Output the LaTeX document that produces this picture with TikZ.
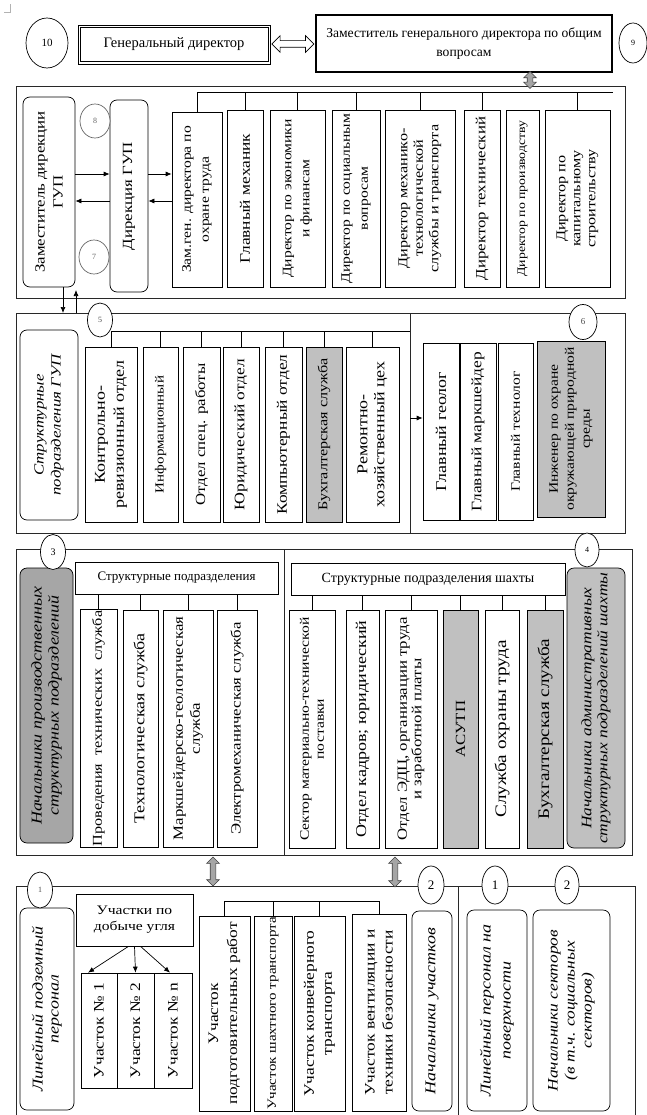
\documentclass[tikz,border=0pt]{standalone}
\usepackage{fontspec}
\setmainfont{Liberation Serif}
\newfontfamily\bx[FakeStretch=1.2]{Liberation Serif}
\definecolor{orggray}{RGB}{192,192,192}
\definecolor{orgdark}{RGB}{166,166,166}
\definecolor{orgarrow}{RGB}{165,165,165}
\definecolor{orgline}{RGB}{40,40,40}
\usepackage{tikz}
\usetikzlibrary{shapes.geometric,shapes.arrows,arrows.meta,calc}
\newcommand\fz[2]{\fontsize{#1}{#2}\selectfont}

\begin{document}
\begin{tikzpicture}[x=1pt, y=-1pt, >={Latex[length=6pt,width=5pt]}, line width=0.7pt,
  vbox/.style={draw, rotate=90, align=center, inner sep=1pt},
  rbox/.style={vbox, rounded corners=7pt},
  num/.style={ellipse, draw, fill=white, inner sep=0pt},
  garrow/.style={double arrow, draw=black!75, fill=orgarrow, rotate=90, inner sep=2.5pt, double arrow head extend=3.5pt, line width=0.6pt}]
\useasboundingbox (0,0) rectangle (646,1115);
\draw[gray!60, line width=0.5pt] (4,12) -- (10,12) -- (10,4);

% frames
\draw[orgline, line width=1pt] (16,87) rectangle (625,298);
\draw[orgline, line width=1pt] (16,313) rectangle (625,533);
\draw[orgline, line width=1pt] (410,313) -- (410,533);
\draw[orgline, line width=1pt] (16,549) rectangle (632,855);
\draw[orgline, line width=1pt] (284,549) -- (284,855);
\draw[orgline, line width=1pt] (16,1115) -- (16,886) -- (635,886) -- (635,1115);
\draw[orgline, line width=1pt] (458,886) -- (458,1115);

% top row
\node[draw, line width=0.7pt, minimum width=192, minimum height=39, font=\fz{14.5}{16}] (gen) at (174,44.5) {Генеральный директор};
\draw[line width=0.7pt] ([shift={(2.5,2.5)}]gen.north west) rectangle ([shift={(-2.5,-2.5)}]gen.south east);
\node[draw, line width=1.6pt, align=center, minimum width=296, minimum height=57, font=\fz{13.6}{19}] (zam) at (464,43.5) {Заместитель генерального директора по общим\\вопросам};
\node[double arrow, draw, fill=white, inner sep=3pt, double arrow head extend=5pt, minimum height=42] (link) at ($(gen.east)!0.5!(zam.west)$) {};
\node[garrow, minimum height=17] (ga0) at (530,80) {};
\node[num, minimum width=42, minimum height=50, font=\fz{11}{12}] (n10) at (47,43) {10};
\node[num, minimum width=28, minimum height=40, font=\fz{8}{9}] (n9) at (633,43) {9};

% directorate
\node[rbox, minimum width=190, minimum height=52, font=\bx\fz{14}{18}] (zamdir) at (49,192) {Заместитель дирекции\\ГУП};
\node[rbox, minimum width=192, minimum height=38, font=\bx\fz{14}{16}] (dir) at (129,196) {Дирекция ГУП};
\node[num, draw=black!60, minimum width=30, minimum height=34, font=\fz{8}{9}, text=black!60] (n8) at (95,121) {8};
\node[num, draw=black!60, minimum width=30, minimum height=34, font=\fz{8}{9}, text=black!60] (n7) at (94,257) {7};

\foreach \nm/\xa/\ya/\xb/\yb/\fs/\ls/\fl/\txt in {%
d1/172/112/222/287/13/18/white/{Зам.ген. директора по\\охране труда},%
d2/227/110/263/287/14.5/16/white/{Главный механик},%
d3/270/110/325/287/13/18/white/{Директор по экономики\\и финансам},%
d4/332/110/380/287/13/18/white/{Директор по социальным\\вопросам},%
d5/385/110/455/287/13.5/15.5/white/{Директор механико-\\технологической\\службы и транспорта},%
d6/464/110/500/287/14/16/white/{Директор технический},%
d7/506/110/539/287/11.5/13/white/{Директор по производству},%
d8/545/110/610/287/13.5/15/white/{Директор по\\капитальному\\строительству},%
b1/85/347/137/522/15/19/white/{Контрольно-\\ревизионный отдел},%
b2/143/347/178/522/12.5/14/white/{Информационный},%
b3/183/347/220/522/14/16/white/{Отдел спец. работы},%
b4/223/347/259/522/14.5/16/white/{Юридический отдел},%
b5/265/347/302/522/14.5/16/white/{Компьютерный отдел},%
b6/306/347/342/522/13.5/16/orggray/{Бухгалтерская служба},%
b7/346/347/399/522/15/17/white/{Ремонтно-\\хозяйственный цех},%
g1/423/343/459/520/15/17/white/{Главный геолог},%
g2/460/343/496/520/14.5/16/white/{Главный маркшейдер},%
g3/498/343/533/520/13/15/white/{Главный технолог},%
g4/537/341/605/517/13/16/orggray/{Инженер по охране\\окружающей природной\\среды},%
c1/80/610/117/847/13.5/15/white/{Проведения\ \ технических\ \ служба},%
c2/123/610/158/847/15/17/white/{Технологическая служба},%
c3/163/610/213/847/14/17/white/{Маркшейдерско-геологическая\\служба},%
c4/217/610/257/847/14/16/white/{Электромеханическая служба},%
s1/289/610/335/848/13/15/white/{Сектор материально-технической\\поставки},%
s2/346/610/379/848/15/17/white/{Отдел кадров; юридический},%
s3/385/610/437/848/14/14.5/white/{Отдел ЭДЦ, организации труда\\и заработной платы},%
s4/443/610/478/848/14/16/orggray/{АСУТП},%
s5/485/610/519/848/16/18/white/{Служба охраны труда},%
s6/527/610/563/848/16/18/orggray/{Бухгалтерская служба},%
u1/81/973/117/1088/14.5/16/white/{Участок № 1},%
u2/117/973/154/1088/14.5/16/white/{Участок № 2},%
u3/154/973/192/1088/14.5/16/white/{Участок № n},%
p1/199/916/250/1111/14.5/19/white/{Участок\\подготовительных работ},%
p2/254/916/292/1111/12.5/14/white/{Участок шахтного транспорта},%
p3/294/916/345/1111/14.5/18/white/{Участок конвейерного\\транспорта},%
p4/352/914/406/1111/14.5/18/white/{Участок вентиляции и\\техники безопасности}%
}{
  \node[vbox, fill=\fl, minimum width={\yb-\ya}, minimum height={\xb-\xa}, font=\bx\fz{\fs}{\ls}] (\nm) at ({(\xa+\xb)/2},{(\ya+\yb)/2}) {\txt};
}

\foreach \nm/\xa/\ya/\xb/\yb/\fs/\ls/\fl/\txt in {%
sgup/20/330/78/520/14/17/white/{Структурные\\подразделения ГУП},%
np/20/568/73/843/15/17/orgdark/{Начальники производственных\\структурных подразделений},%
na/567/568/625/848/14.5/16/orggray/{Начальники административных\\структурных подразделений шахты},%
lp/20/908/74/1110/15/16/white/{Линейный подземный\\персонал},%
nu/412/911/452/1111/15/17/white/{Начальники участков},%
lpp/467/910/527/1111/15/20/white/{Линейный персонал на\\поверхности},%
ns/533/910/610/1111/14.5/17/white/{Начальники секторов\\(в т.ч. социальных\\секторов)}%
}{
  \node[rbox, fill=\fl, minimum width={\yb-\ya}, minimum height={\xb-\xa}, font=\bx\itshape\fz{\fs}{\ls}] (\nm) at ({(\xa+\xb)/2},{(\ya+\yb)/2}) {\txt};
}

% horizontal heads
\node[draw, minimum width=203, minimum height=32, font=\fz{13}{15}] (sp) at (176.5,578) {Структурные подразделения};
\node[draw, minimum width=274, minimum height=32, font=\fz{14}{16}] (sps) at (428,579) {Структурные подразделения шахты};
\node[draw, align=center, minimum width=117, minimum height=52, font=\bx\fz{13}{16}] (ud) at (134.5,920) {Участки по\\добыче угля};

% numbers
\node[num, minimum width=25, minimum height=34, font=\fz{8}{9}, text=black!70] (n5) at (100,320) {5};
\node[num, minimum width=28, minimum height=35, font=\fz{9}{10}, text=black!70] (n6) at (583,322) {6};
\node[num, minimum width=25, minimum height=35, font=\fz{10}{11}] (n3) at (53,552) {3};
\node[num, minimum width=24, minimum height=34, font=\fz{8}{9}] (n4) at (587,550) {4};
\node[num, minimum width=25, minimum height=36, font=\fz{8}{9}, text=black!70] (n1a) at (40,890) {1};
\node[num, minimum width=26, minimum height=38, font=\fz{13}{14}] (n2a) at (431,885) {2};
\node[num, minimum width=26, minimum height=38, font=\fz{13}{14}] (n1b) at (495,885) {1};
\node[num, minimum width=24, minimum height=38, font=\fz{13}{14}] (n2b) at (567,885) {2};

% connectors
\coordinate (r1) at (0,174);
\coordinate (r2) at (0,201);
\draw[->] (zamdir.south |- r1) -- (dir.north |- r1);
\draw[->] (dir.north |- r2) -- (zamdir.south |- r2);
\draw[->] (dir.south |- r1) -- (d1.north |- r1);
\draw[->] (d1.north |- r2) -- (dir.south |- r2);
\coordinate (v1) at (63,313);
\coordinate (v2) at (76,313);
\coordinate (v2t) at (76,290);
\draw[->] (zamdir.west -| v1) -- (v1);
\draw[->] (v2) -- (v2t);

\coordinate (busA) at (613,92);
\draw (d1.east |- busA) -- (busA);
\foreach \n in {d1,d2,d3,d4,d5,d6,d8}
  \draw (\n.east) -- (\n.east |- busA);

\coordinate (busB) at (410,331);
\draw (b1.east |- busB) -- (busB);
\foreach \n in {b1,b2,b3,b4,b5,b6,b7}
  \draw (\n.east) -- (\n.east |- busB);
\coordinate (bdiv) at (410,418);
\draw[->] (bdiv) -- (g1.north |- bdiv);

\foreach \n in {c1,c2,c3,c4}
  \draw (sp.south -| \n.east) -- (\n.east);
\foreach \n in {s1,s2,s3,s4,s5,s6}
  \draw (sps.south -| \n.east) -- (\n.east);

\node[garrow, minimum height=29] (ga1) at (213,871.5) {};
\node[garrow, minimum height=30] (ga2) at (395,872) {};

\coordinate (busD) at (0,901);
\draw (p1.east |- busD) -- (p4.east |- busD);
\foreach \n in {p1,p2,p3,p4}
  \draw (\n.east) -- (\n.east |- busD);
\draw[->] ($(ud.south)+(-6,0)$) -- ($(u1.east)+(-11,0)$);
\draw[->] (ud.south) -- (u2.east);
\draw[->] ($(ud.south)+(6,0)$) -- ($(u3.east)+(-3,0)$);
\end{tikzpicture}
\end{document}
